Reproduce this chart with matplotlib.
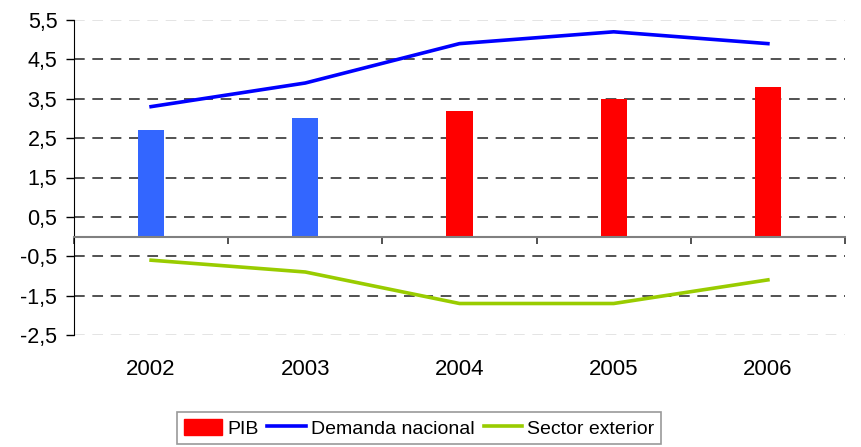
import numpy as np
import matplotlib.pyplot as plt
from matplotlib.patches import Patch

plt.rcParams['font.family'] = ['Liberation Sans', 'DejaVu Sans']

anios = ["2002", "2003", "2004", "2005", "2006"]
pib = [2.7, 3.0, 3.2, 3.5, 3.8]
demanda_nacional = [3.3, 3.9, 4.9, 5.2, 4.9]
sector_exterior = [-0.6, -0.9, -1.7, -1.7, -1.1]
colores_pib = ["#3366FF", "#3366FF", "#FF0000", "#FF0000", "#FF0000"]
yticks = [-2.5, -1.5, -0.5, 0.5, 1.5, 2.5, 3.5, 4.5, 5.5]

fig = plt.figure(figsize=(8.61, 4.47), dpi=100)
ax = fig.add_axes([74 / 861, 1 - 335 / 447, (845 - 74) / 861, 315 / 447])

x = np.arange(len(anios))

# líneas de rejilla discontinuas
for yv in yticks:
    col = "#DDDDDD" if yv in (yticks[0], yticks[-1]) else "#222222"
    ax.axhline(yv, color=col, lw=1.1, ls=(0, (7, 5)), zorder=0)

ax.bar(x, pib, width=0.17, color=colores_pib, zorder=2)
l1, = ax.plot(x, demanda_nacional, color="#0000FF", lw=2.6, zorder=3)
l2, = ax.plot(x, sector_exterior, color="#99CC00", lw=2.6, zorder=3)

ax.set_xlim(-0.5, len(anios) - 0.5)
ax.set_ylim(-2.5, 5.5)
ax.set_yticks(yticks)
ax.set_yticklabels([f"{v:.1f}".replace(".", ",") for v in yticks], fontsize=15.5)
ax.tick_params(axis="y", length=6, width=1, color="black", pad=6)

# eje horizontal en cero
ax.spines["bottom"].set_position(("data", 0))
ax.spines["bottom"].set_color("#808080")
ax.spines["bottom"].set_linewidth(1.5)
ax.spines["bottom"].set_zorder(4)
ax.spines["top"].set_visible(False)
ax.spines["right"].set_visible(False)
ax.spines["left"].set_color("black")
ax.set_xticks(np.arange(len(anios) + 1) - 0.5)
ax.set_xticklabels([])
ax.tick_params(axis="x", direction="out", length=5, width=1.2, color="#333333")

for xi, lab in zip(x, anios):
    ax.text(xi, -0.111, lab, transform=ax.get_xaxis_transform(),
            ha="center", va="center", fontsize=16)

leg = fig.legend([Patch(color="#FF0000"), l1, l2],
                 ["PIB", "Demanda nacional", "Sector exterior"],
                 loc="upper center", bbox_to_anchor=(419 / 861, 1 - 412 / 447),
                 ncol=3, fontsize=14, frameon=True, fancybox=False,
                 handlelength=2.0, handleheight=0.9, handletextpad=0.25,
                 columnspacing=0.45, borderpad=0.35, borderaxespad=0)
leg.get_frame().set_edgecolor("#808080")
leg.get_frame().set_linewidth(1.2)

fig.savefig("out.png", dpi=100)
